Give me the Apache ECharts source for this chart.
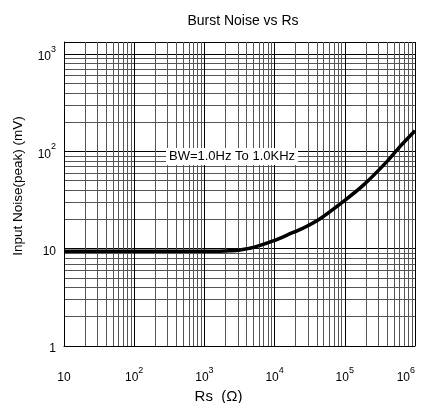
<!DOCTYPE html>
<html>
<head>
<meta charset="utf-8">
<script src="https://cdn.jsdelivr.net/npm/echarts@6/dist/echarts.min.js"></script>
<style>html,body{margin:0;padding:0;background:#fff;}#c{width:422px;height:403px;}</style>
</head>
<body>
<div id="c"></div>
<script>
var rsValues = [10, 100, 1000, 1670, 2300, 3210, 5000, 9550, 18000, 25700, 44000, 95000, 184000, 395000, 610000, 1000000];
var noiseValues = [9.4, 9.4, 9.4, 9.42, 9.5, 9.7, 10.3, 12, 14.6, 16.3, 20.2, 30.5, 45, 78, 112, 163];
var xTickExps = [1, 2, 3, 4, 5, 6];
var yTickExps = [0, 1, 2, 3];
var titleText = 'Burst Noise vs Rs';
var noteText = 'BW=1.0Hz To 1.0KHz';

var FONT = '"Liberation Sans", Arial, sans-serif';
function fmt(exps) {
  return function (v) {
    var e = Math.round(Math.log(v) / Math.LN10);
    if (Math.abs(Math.pow(10, e) - v) > 1e-6 * v) return '';
    if (exps.indexOf(e) < 0) return '';
    if (e === 0) return '{b|1}';
    if (e === 1) return '{b|10}';
    return '{b|10}{s|' + e + '}';
  };
}
var rich = {
  b: {fontSize: 12, fontFamily: FONT, color: '#000', lineHeight: 18, verticalAlign: 'bottom'},
  s: {fontSize: 9, fontFamily: FONT, color: '#000', lineHeight: 18, verticalAlign: 'top'}
};
var data = rsValues.map(function (x, i) { return [x, noiseValues[i]]; });
var chart = echarts.init(document.getElementById('c'));
chart.setOption({
  animation: false,
  backgroundColor: '#fff',
  title: {text: titleText, left: 238, top: 9, textAlign: 'center',
    textStyle: {fontSize: 14, fontWeight: 'normal', fontFamily: FONT, color: '#000'}},
  grid: {left: 64, right: 7, top: 42, bottom: 57, outerBoundsMode: 'none', containLabel: false},
  xAxis: {
    type: 'log', logBase: 10, min: 10, max: 1000000,
    name: 'Rs  (\u03A9)', nameLocation: 'middle', nameGap: 33,
    nameTextStyle: {fontSize: 15, fontFamily: FONT, color: '#000', padding: [0, 42, 0, 0]},
    axisLine: {show: true, lineStyle: {color: '#000', width: 1}},
    axisTick: {show: false},
    axisLabel: {formatter: fmt(xTickExps), rich: rich, margin: 20, showMinLabel: true, showMaxLabel: true,
      alignMaxLabel: 'right'},
    splitLine: {show: true, lineStyle: {color: '#000', width: 1}},
    minorTick: {show: false, splitNumber: 9},
    minorSplitLine: {show: true, lineStyle: {color: '#555', width: 1}}
  },
  yAxis: {
    type: 'log', logBase: 10, min: 1, max: 1330,
    name: 'Input Noise(peak) (mV)', nameLocation: 'middle', nameGap: 39, nameRotate: 90,
    nameTextStyle: {fontSize: 13.5, fontFamily: FONT, color: '#000', padding: [0, 0, 0, 16]},
    axisLine: {show: true, lineStyle: {color: '#000', width: 1}},
    axisTick: {show: false},
    axisLabel: {formatter: fmt(yTickExps), rich: rich, margin: 8, showMinLabel: true},
    splitLine: {show: true, lineStyle: {color: '#000', width: 1}},
    minorTick: {show: false, splitNumber: 9},
    minorSplitLine: {show: true, lineStyle: {color: '#555', width: 1}}
  },
  series: [{
    type: 'line', data: data, smooth: 0.3, showSymbol: false,
    lineStyle: {color: '#000', width: 3.5}, z: 5
  }],
  graphic: [{
    type: 'text', left: 166, top: 148, z: 100,
    style: {text: noteText, fontSize: 13, fontFamily: FONT, fill: '#000',
      backgroundColor: '#fff', padding: [2, 3, 2, 3]}
  }]
});
</script>
</body>
</html>
